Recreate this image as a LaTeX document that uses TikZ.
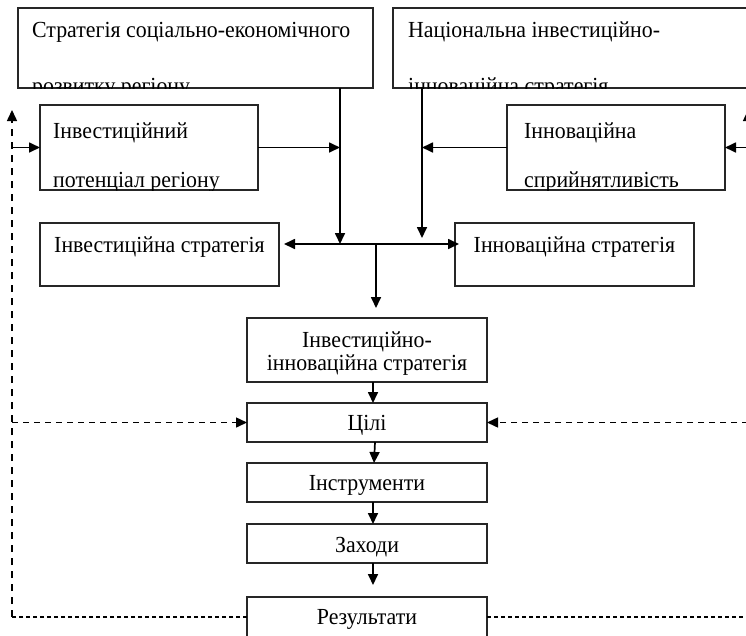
\documentclass[tikz,border=0pt]{standalone}
\usepackage{fontspec}
\setmainfont{Liberation Serif}[FakeStretch=0.95]
\usetikzlibrary{arrows.meta,calc}
\begin{document}
\begin{tikzpicture}[x=1pt,y=-1pt,
  box/.style={draw=black!85, line width=1.5pt, inner sep=0pt, outer sep=0pt, anchor=north west},
  ln/.style={line width=1.7pt},
  tip/.style={-{Triangle[length=11pt,width=10pt]}},
  arr/.style={ln,tip},
  dashL/.style={line width=1.5pt, dash pattern=on 7pt off 6pt},
  dashM/.style={line width=1.5pt, dash pattern=on 6pt off 5pt},
  dashS/.style={line width=1.3pt, dash pattern=on 4pt off 3pt},
  lbl/.style={font=\fontsize{23}{26}\selectfont, inner sep=0pt, anchor=base}]
\useasboundingbox (0,0) rectangle (746,635);
\clip (0,0) rectangle (746,635);

% boxes
\node[box, minimum width=355pt, minimum height=80pt] (strat) at (18,8) {};
\node[box, minimum width=360pt, minimum height=80pt] (nat) at (393,8) {};
\node[box, minimum width=218pt, minimum height=85pt] (invpot) at (40,105) {};
\node[box, minimum width=218pt, minimum height=85pt] (innsus) at (507,105) {};
\node[box, minimum width=239pt, minimum height=63pt] (invstr) at (40,223) {};
\node[box, minimum width=239pt, minimum height=63pt] (innstr) at (455,223) {};
\node[box, minimum width=240pt, minimum height=64pt] (iistr) at (247,318) {};
\node[box, minimum width=240pt, minimum height=39pt] (goals) at (247,403) {};
\node[box, minimum width=240pt, minimum height=39pt] (tools) at (247,463) {};
\node[box, minimum width=240pt, minimum height=39pt] (meas) at (247,524) {};
\node[box, minimum width=240pt, minimum height=40pt] (res) at (247,597) {};

% clipped texts of the upper boxes
\begin{scope}
\clip (strat.north west) rectangle (strat.south east);
\node[lbl, anchor=base west] (t1a) at (32,37) {Стратегія соціально-економічного};
\node[lbl, anchor=base west] (t1b) at (32,93) {розвитку регіону};
\end{scope}
\begin{scope}
\clip (nat.north west) rectangle (nat.south east);
\node[lbl, anchor=base west] (t2a) at (408,37) {Національна інвестиційно-};
\node[lbl, anchor=base west] (t2b) at (408,93) {інноваційна стратегія};
\end{scope}
\begin{scope}
\clip (invpot.north west) rectangle (invpot.south east);
\node[lbl, anchor=base west] (t3a) at (53,138) {Інвестиційний};
\node[lbl, anchor=base west] (t3b) at (53,187) {потенціал регіону};
\end{scope}
\begin{scope}
\clip (innsus.north west) rectangle (innsus.south east);
\node[lbl, anchor=base west] (t4a) at (524,138) {Інноваційна};
\node[lbl, anchor=base west] (t4b) at (524,187) {сприйнятливість};
\end{scope}

% other texts
\node[lbl] (t5) at (159.5,252) {Інвестиційна стратегія};
\node[lbl] (t6) at (574.5,252) {Інноваційна стратегія};
\node[lbl] (t7a) at (367,347) {Інвестиційно-};
\node[lbl] (t7b) at (367,370) {інноваційна стратегія};
\node[lbl] (t8) at (367,430) {Цілі};
\node[lbl] (t9) at (367,490) {Інструменти};
\node[lbl] (t10) at (367,552) {Заходи};
\node[lbl] (t11) at (367,624) {Результати};

% junction coordinates
\coordinate (J1) at (340,244);
\coordinate (J2) at (422,238);
\coordinate (J3) at (376,244);
\coordinate (J4) at (376,308);
\coordinate (J5) at (373,585);
\coordinate (LT) at (12,110);
\coordinate (LB) at (12,617);
\coordinate (RT) at (748,110);
\coordinate (RB) at (748,617);

% upper connectors
\draw[arr] (strat.south -| J1) -- (J1);
\draw[arr] (nat.south -| J2) -- (J2);
\draw[arr] (invpot.east) -- (invpot.east -| J1);
\draw[arr] (innsus.west) -- (innsus.west -| J2);
\draw[ln, {Triangle[length=11pt,width=10pt]}-{Triangle[length=11pt,width=10pt]}]
  ([xshift=5pt]invstr.east |- J1) -- ([xshift=4pt]innstr.west |- J1);
\draw[arr] (J3) -- (J4);

% lower chain
\draw[arr] ([xshift=6pt]iistr.south) -- ([xshift=6pt]goals.north);
\draw[arr] ([xshift=8pt]goals.south) -- ([xshift=7pt]tools.north);
\draw[arr] ([xshift=6pt]tools.south) -- ([xshift=6pt]meas.north);
\draw[arr] ([xshift=6pt]meas.south) -- (J5);

% feedback (left)
\draw[dashS] (res.west) -- (LB);
\draw[dashL, tip] (LB) -- (LT);
\draw[dashM, tip] (LT |- goals.west) -- (goals.west);
\draw[arr] (LT |- invpot.west) -- (invpot.west);

% feedback (right)
\draw[dashS] (res.east) -- (RB);
\draw[dashL, tip] (RB) -- (RT);
\draw[dashM, tip] (RT |- goals.east) -- (goals.east);
\draw[arr] (RT |- innsus.east) -- (innsus.east);
\end{tikzpicture}
\end{document}
